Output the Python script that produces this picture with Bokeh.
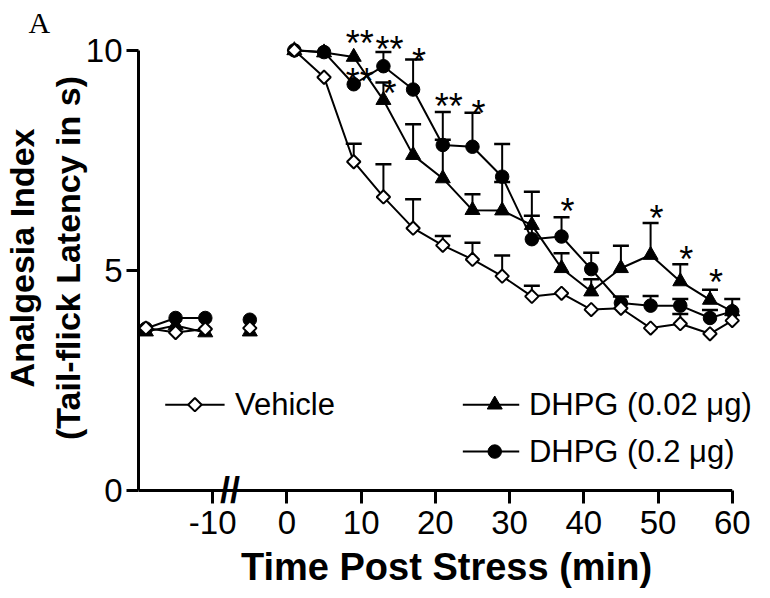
import math
from bokeh.plotting import figure
from bokeh.models import Range1d, FixedTicker, Label, Title
from bokeh.core.properties import value
from bokeh.embed import file_html
from bokeh.resources import INLINE

# ---------------- data ----------------
pre_t = [-19, -15, -11, -5]
post_t = [1, 5, 9, 13, 17, 21, 25, 29, 33, 37, 41, 45, 49, 53, 57, 60]

veh_pre = [3.69, 3.59, 3.67, 3.69]
veh_post = [10.0, 9.39, 7.47, 6.67, 5.96, 5.57, 5.25, 4.87, 4.41, 4.48, 4.11, 4.14, 3.69, 3.79, 3.56, 3.86]
veh_sem = [0, 0, 0.41, 0.74, 0.66, 0.21, 0.38, 0.47, 0.24, 0, 0, 0, 0, 0.22, 0, 0]

lo_pre = [3.61, 3.75, 3.59, 3.61]
lo_post = [10.0, 9.95, 9.85, 8.87, 7.62, 7.09, 6.37, 6.36, 6.03, 5.05, 4.52, 5.05, 5.35, 4.75, 4.33, 4.07]
lo_sem = [0, 0, 0, 0.40, 0.70, 0.88, 0.36, 0.65, 0.76, 0.34, 0.28, 0.51, 0.73, 0.39, 0.23, 0.28]

hi_pre = [3.68, 3.92, 3.92, 3.88]
hi_post = [10.0, 9.96, 9.23, 9.64, 9.11, 7.85, 7.81, 7.13, 5.71, 5.77, 5.03, 4.26, 4.20, 4.20, 3.92, 4.07]
hi_sem = [0, 0, 0, 0.32, 0.68, 0.75, 0.77, 0.74, 0.53, 0.44, 0.37, 0.15, 0.22, 0.15, 0.18, 0]

star_t = [9, 9, 13, 13, 17, 21, 25, 37, 49, 53, 57]
star_y = [10.34, 9.47, 10.19, 9.21, 9.93, 8.90, 8.75, 6.52, 6.37, 5.43, 4.90]
star_txt = ["**", "**", "**", "*", "*", "**", "*", "*", "*", "*", "*"]

x_ticks = [-10, 0, 10, 20, 30, 40, 50, 60]
x_tick_labels = ["-10", "0", "10", "20", "30", "40", "50", "60"]
y_ticks = [0, 5, 10]

labels = ["Vehicle", "DHPG (0.02 \u03bcg)", "DHPG (0.2 \u03bcg)"]

FONT = "Liberation Sans"
X_AXIS = (-20, 60)
Y_AXIS = (0, 10)

p = figure(width=754, height=590, x_range=Range1d(-20, 63.0), y_range=Range1d(-0.295, 10.86),
           output_backend="svg", toolbar_location=None,
           min_border_left=134, min_border_right=0, min_border_top=12, min_border_bottom=86)
p.outline_line_color = None
p.xgrid.visible = False
p.ygrid.visible = False
p.background_fill_color = "white"
p.border_fill_color = "white"

for ax in (p.xaxis[0], p.yaxis[0]):
    ax.axis_line_width = 3
    ax.axis_line_color = "black"
    ax.major_tick_line_width = 3
    ax.major_tick_line_color = "black"
    ax.minor_tick_line_color = None
    ax.major_label_text_font = FONT
    ax.major_label_text_font_size = "33px"
    ax.major_label_text_color = "black"
    ax.axis_label_text_font = FONT
    ax.axis_label_text_font_style = "bold"
    ax.axis_label_text_color = "black"

xa = p.xaxis[0]
xa.ticker = FixedTicker(ticks=x_ticks)
xa.major_label_overrides = {t: s for t, s in zip(x_ticks, x_tick_labels)}
xa.bounds = X_AXIS
xa.axis_line_color = None          # axis rule drawn at y = 0 below
xa.major_tick_in = 13
xa.major_tick_out = 0
xa.major_label_standoff = 7
xa.axis_label = "Time Post Stress (min)"
xa.axis_label_text_font_size = "38px"
xa.axis_label_standoff = 9

ya = p.yaxis[0]
ya.ticker = FixedTicker(ticks=y_ticks)
ya.bounds = Y_AXIS
ya.major_tick_out = 12
ya.major_tick_in = 0
ya.major_label_standoff = 4
ya.axis_label = "Analgesia Index\n(Tail-flick Latency in s)"
ya.axis_label_text_font_size = "34px"
ya.axis_label_standoff = -4

# x-axis rule at y = 0
p.segment(x0=[X_AXIS[0]], y0=[0], x1=[X_AXIS[1]], y1=[0], line_color="black", line_width=3)

series = [
    (veh_pre, veh_post, veh_sem, dict(marker="square", angle=math.pi / 4, size=9.5,
                                      fill_color="white", line_color="black", line_width=2)),
    (lo_pre, lo_post, lo_sem, dict(marker="triangle", size=15, fill_color="black",
                                   line_color="black", line_width=1)),
    (hi_pre, hi_post, hi_sem, dict(marker="circle", size=13.5, fill_color="black",
                                   line_color="black", line_width=1)),
]

# error bars first
for pre, post, sem, _ in series:
    ex = [t for t, e in zip(post_t, sem) if e > 0]
    ey0 = [m for m, e in zip(post, sem) if e > 0]
    ey1 = [m + e for m, e in zip(post, sem) if e > 0]
    p.segment(x0=ex, y0=ey0, x1=ex, y1=ey1, line_color="black", line_width=2)
    p.scatter(x=ex, y=ey1, marker="dash", size=16, line_color="black", line_width=2.5)

# draw order: triangle, circle, then vehicle on top
for idx in (1, 2, 0):
    pre, post, sem, mk = series[idx]
    p.line(pre_t[:3], pre[:3], line_color="black", line_width=2)
    p.line(post_t, post, line_color="black", line_width=2)
    p.scatter(x=pre_t, y=pre, **mk)
    p.scatter(x=post_t, y=post, **mk)

# significance asterisks
p.text(x=star_t, y=star_y, text=star_txt, text_font=value(FONT), text_font_size=value("36px"),
       text_align="center", text_baseline="middle", x_offset=6, y_offset=8, text_color="black")

# legend (drawn manually)
leg_rows = [(-16.4, -8.4, -12.4, -7.0, 1.95), (23.7, 31.3, 28.0, 32.6, 1.95), (23.7, 31.3, 28.0, 32.6, 0.885)]
for (x0, x1, xm, xt, yy), (_, _, _, mk), lab in zip(leg_rows, series, labels):
    p.line([x0, x1], [yy, yy], line_color="black", line_width=2)
    p.scatter(x=[xm], y=[yy], **mk)
    p.text(x=[xt], y=[yy], text=[lab], text_font=value(FONT), text_font_size=value("31px"),
           text_align="left", text_baseline="middle", text_color="black")

# axis break mark
p.add_layout(Label(x=-7.66, y=0, text="//", text_font=FONT, text_font_size="36px",
                   text_font_style="bold", text_align="center", text_baseline="middle",
                   text_color="black"))

# panel letter
p.add_layout(Title(text="A", align="left", offset=-110, standoff=-52, vertical_align="bottom",
                   text_font="Liberation Serif", text_font_size="30px", text_font_style="normal",
                   text_color="black"), "above")

open("out.html", "w").write(file_html(p, INLINE))
